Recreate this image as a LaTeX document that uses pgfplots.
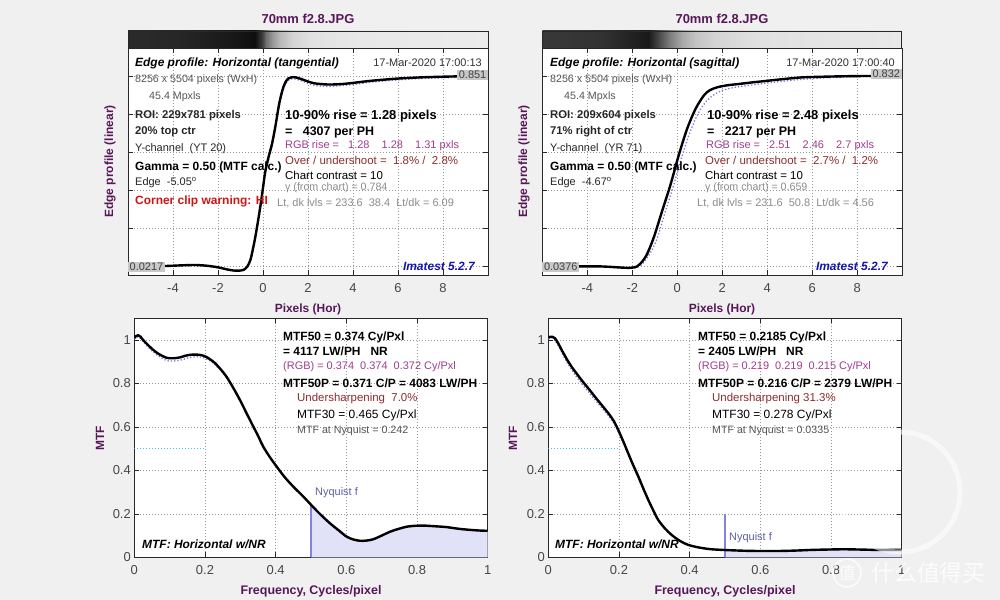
\documentclass[border=0pt]{standalone}
\usepackage{fontspec}
\setmainfont{Liberation Sans}
\newfontfamily\cjk{Noto Sans CJK SC}
\usepackage{pgfplots}
\pgfplotsset{compat=1.18}
\usepackage{pgfplotstable}

\definecolor{figbg}{RGB}{240,240,240}
\definecolor{labc}{RGB}{88,22,88}
\definecolor{tickc}{RGB}{70,70,70}
\definecolor{axc}{RGB}{40,40,40}
\definecolor{gridc}{RGB}{150,150,150}
\definecolor{infoc}{RGB}{85,85,85}
\definecolor{lgrey}{RGB}{140,140,140}
\definecolor{purp}{RGB}{160,60,145}
\definecolor{brn}{RGB}{140,45,45}
\definecolor{warnred}{RGB}{205,20,20}
\definecolor{imablue}{RGB}{20,20,170}
\definecolor{rgbdot}{RGB}{120,120,220}
\definecolor{nyq}{RGB}{130,130,225}
\definecolor{nyqfill}{RGB}{225,225,248}
\definecolor{nyqtxt}{RGB}{95,95,165}
\definecolor{cyanline}{RGB}{60,200,230}
\definecolor{boxg}{RGB}{200,200,200}

\newcommand{\fs}[1]{\fontsize{#1}{#1}\selectfont}

% grey strips above the edge plots
\pgfdeclarehorizontalshading{stripA}{100bp}{rgb(0bp)=(.17,.17,.17); rgb(25bp)=(.17,.17,.17);
 rgb(32.2bp)=(.15,.15,.15); rgb(39.15bp)=(.098,.098,.098); rgb(42.65bp)=(.059,.059,.059);
 rgb(43.6bp)=(.235,.235,.235); rgb(44.15bp)=(.431,.431,.431); rgb(45bp)=(.588,.588,.588);
 rgb(46.1bp)=(.725,.725,.725); rgb(47.8bp)=(.824,.824,.824); rgb(50.3bp)=(.882,.882,.882);
 rgb(57.2bp)=(.91,.91,.91); rgb(75bp)=(.925,.925,.925); rgb(100bp)=(.925,.925,.925)}
\pgfdeclarehorizontalshading{stripB}{100bp}{rgb(0bp)=(.22,.22,.22); rgb(25bp)=(.22,.22,.22);
 rgb(33.05bp)=(.2,.2,.2); rgb(37.25bp)=(.137,.137,.137); rgb(39.75bp)=(.098,.098,.098);
 rgb(40.85bp)=(.235,.235,.235); rgb(41.95bp)=(.392,.392,.392); rgb(43.1bp)=(.529,.529,.529);
 rgb(44.5bp)=(.667,.667,.667); rgb(46.3bp)=(.765,.765,.765); rgb(49.05bp)=(.831,.831,.831);
 rgb(55.3bp)=(.882,.882,.882); rgb(75bp)=(.914,.914,.914); rgb(100bp)=(.914,.914,.914)}

% edge profile, tangential
\pgfplotstableread{
x y
-6.0 0.020
-5.5 0.021
-5.0 0.022
-4.5 0.024
-4.0 0.026
-3.5 0.028
-3.0 0.029
-2.5 0.026
-2.0 0.019
-1.6 0.010
-1.3 0.005
-1.0 0.005
-0.86 0.008
-0.7 0.022
-0.56 0.051
-0.45 0.098
-0.34 0.152
-0.23 0.215
-0.12 0.283
0.0 0.365
0.10 0.435
0.25 0.500
0.40 0.556
0.55 0.632
0.69 0.715
0.80 0.766
0.91 0.804
1.02 0.828
1.14 0.841
1.30 0.846
1.45 0.845
1.70 0.838
2.00 0.827
2.30 0.819
2.70 0.815
3.00 0.814
3.50 0.816
4.00 0.821
4.50 0.827
5.00 0.832
6.00 0.840
7.00 0.845
8.00 0.848
9.00 0.850
10.0 0.851
}\edgeA
\pgfplotstableread{
x y
-6.0 0.019
-4.0 0.025
-3.0 0.027
-2.0 0.017
-1.3 0.004
-1.0 0.004
-0.7 0.018
-0.45 0.090
-0.12 0.272
0.10 0.425
0.40 0.545
0.69 0.705
0.91 0.795
1.14 0.833
1.40 0.838
1.70 0.830
2.30 0.810
3.00 0.806
4.00 0.814
5.00 0.826
7.00 0.840
10.0 0.848
}\edgeAdot
% edge profile, sagittal
\pgfplotstableread{
x y
-6.0 0.037
-5.0 0.038
-4.0 0.039
-3.5 0.039
-3.0 0.037
-2.5 0.034
-2.1 0.033
-1.8 0.038
-1.55 0.060
-1.33 0.093
-1.04 0.161
-0.67 0.271
-0.30 0.380
0.07 0.504
0.44 0.613
0.81 0.695
1.18 0.751
1.45 0.773
1.78 0.785
2.2 0.793
2.67 0.798
3.3 0.805
4.0 0.812
4.7 0.819
5.5 0.826
6.5 0.829
7.5 0.831
8.5 0.832
10.0 0.832
}\edgeB
\pgfplotstableread{
x y
-6.0 0.036
-4.0 0.038
-3.0 0.036
-2.0 0.031
-1.6 0.045
-1.2 0.095
-0.9 0.155
-0.55 0.262
-0.18 0.372
0.2 0.495
0.57 0.600
0.95 0.680
1.3 0.728
1.6 0.752
1.9 0.768
2.3 0.780
2.8 0.788
3.5 0.797
4.5 0.808
5.5 0.818
7.0 0.826
8.5 0.830
10.0 0.831
}\edgeBdot
% MTF, tangential
\pgfplotstableread{
x y
0.000 1.010
0.005 1.018
0.011 1.022
0.018 1.015
0.025 1.000
0.040 0.975
0.054 0.954
0.070 0.935
0.092 0.918
0.110 0.916
0.129 0.920
0.145 0.928
0.158 0.932
0.175 0.933
0.191 0.930
0.205 0.921
0.224 0.900
0.242 0.870
0.261 0.831
0.280 0.780
0.299 0.724
0.318 0.662
0.337 0.601
0.350 0.560
0.365 0.509
0.384 0.460
0.403 0.417
0.425 0.370
0.450 0.325
0.475 0.285
0.500 0.242
0.525 0.200
0.554 0.156
0.580 0.122
0.601 0.095
0.620 0.082
0.639 0.076
0.657 0.077
0.676 0.083
0.700 0.100
0.724 0.118
0.748 0.131
0.771 0.141
0.795 0.145
0.818 0.146
0.850 0.143
0.884 0.139
0.910 0.133
0.931 0.129
0.960 0.125
0.980 0.123
1.000 0.122
}\mtfA
\pgfplotstableread{
x y
0.000 1.005
0.011 1.015
0.025 0.992
0.054 0.944
0.092 0.905
0.129 0.907
0.158 0.920
0.191 0.921
0.224 0.893
0.261 0.826
0.299 0.720
0.337 0.598
0.365 0.507
0.403 0.415
0.450 0.323
0.500 0.241
0.554 0.154
0.601 0.093
0.639 0.074
0.676 0.081
0.724 0.116
0.771 0.139
0.818 0.144
0.884 0.137
0.931 0.127
1.000 0.120
}\mtfAdot
% MTF, sagittal
\pgfplotstableread{
x y
0.000 1.010
0.005 1.015
0.012 1.015
0.019 1.008
0.028 0.985
0.038 0.954
0.052 0.913
0.066 0.877
0.080 0.846
0.094 0.816
0.113 0.778
0.132 0.739
0.151 0.701
0.170 0.663
0.185 0.628
0.198 0.586
0.212 0.534
0.226 0.479
0.240 0.425
0.255 0.371
0.269 0.316
0.283 0.264
0.297 0.216
0.311 0.172
0.330 0.133
0.349 0.103
0.372 0.076
0.396 0.057
0.430 0.044
0.462 0.037
0.500 0.0335
0.557 0.030
0.600 0.029
0.651 0.029
0.700 0.031
0.745 0.034
0.800 0.036
0.840 0.037
0.900 0.035
0.934 0.034
1.000 0.034
}\mtfB
\pgfplotstableread{
x y
0.000 1.005
0.012 1.010
0.028 0.975
0.052 0.900
0.080 0.830
0.113 0.762
0.151 0.688
0.185 0.618
0.212 0.528
0.240 0.420
0.269 0.312
0.297 0.213
0.330 0.131
0.372 0.075
0.430 0.043
0.500 0.033
0.600 0.028
0.700 0.030
0.800 0.035
0.900 0.034
1.000 0.033
}\mtfBdot

\pgfplotsset{
  imbase/.style={scale only axis, anchor=south west,
    axis background/.style={fill=white},
    axis line style={draw=axc, line width=0.7bp},
    every tick/.style={draw=axc, line width=0.6bp},
    major tick length=5bp,
    grid=major,
    major grid style={draw=gridc, line width=0.6bp, dash pattern=on 0.6bp off 2.4bp},
    tick label style={font=\fs{13}, text=tickc},
    /pgf/number format/assume math mode=true,
    xticklabel shift=5bp},
  edge/.style={imbase, width=360bp, height=227bp, xmin=-6, xmax=10,
    xtick={-4,-2,0,2,4,6,8}, yticklabels={}},
  mtf/.style={imbase, width=353.4bp, height=239bp, xmin=0, xmax=1, ymin=0, ymax=1.1,
    xtick={0,0.2,0.4,0.6,0.8,1}, ytick={0,0.2,0.4,0.6,0.8,1}},
}

\begin{document}
\begin{tikzpicture}
\path[use as bounding box] (0,0) rectangle (1000bp,600bp);
\fill[figbg] (0,0) rectangle (1000bp,600bp);

\begin{axis}[edge, at={(128bp,325bp)}, ymin=-0.0144, ymax=0.9728,
  ytick={0.0217,0.1876,0.3534,0.5193,0.6851,0.851}]
\addplot[rgbdot, dotted, line width=1.3bp, smooth] table {\edgeAdot};
\addplot[black, line width=2.4bp, smooth] table {\edgeA};
\end{axis}

\begin{axis}[edge, at={(542.3bp,325bp)}, ymin=0.0030, ymax=0.9486,
  ytick={0.0376,0.1965,0.3554,0.5142,0.6731,0.832}]
\addplot[rgbdot, dotted, line width=1.3bp, smooth] table {\edgeBdot};
\addplot[black, line width=2.4bp, smooth] table {\edgeB};
\end{axis}

\begin{axis}[mtf, at={(134.3bp,42.7bp)}]
\addplot[fill=nyqfill, draw=none, restrict x to domain=0.5:1] table {\mtfA} \closedcycle;
\addplot[cyanline, dotted, line width=1bp] coordinates {(0,0.5) (0.2,0.5)};
\addplot[nyq, line width=2.2bp] coordinates {(0.5,0) (0.5,0.242)};
\addplot[rgbdot, dotted, line width=1.3bp, smooth] table {\mtfAdot};
\addplot[black, line width=2.4bp, smooth] table {\mtfA};
\end{axis}

\begin{axis}[mtf, at={(548.3bp,42.7bp)}]
\addplot[fill=nyqfill, draw=none, restrict x to domain=0.5:1] table {\mtfB} \closedcycle;
\addplot[cyanline, dotted, line width=1bp] coordinates {(0,0.5) (0.2,0.5)};
\addplot[nyq, line width=2.2bp] coordinates {(0.5,0) (0.5,0.2)};
\addplot[rgbdot, dotted, line width=1.3bp, smooth] table {\mtfBdot};
\addplot[black, line width=2.4bp, smooth] table {\mtfB};
\end{axis}

\begin{scope}[x=1bp, y=-1bp, yshift=600bp, every node/.style={inner sep=0pt, anchor=west}]
% strips
\shade[shading=stripA] (128,31) rectangle (488,48);
\draw[axc, line width=0.7bp] (128,48) -- (128,31) -- (488,31) -- (488,48);
\shade[shading=stripB] (542.3,31) rectangle (901.7,48);
\draw[axc, line width=0.7bp] (542.3,48) -- (542.3,31) -- (901.7,31) -- (901.7,48);

% titles and axis labels
\node[anchor=center, font=\fs{13}\bfseries, text=labc] at (308,19) {70mm f2.8.JPG};
\node[anchor=center, font=\fs{13}\bfseries, text=labc] at (722,19) {70mm f2.8.JPG};
\node[anchor=center, font=\fs{12}\bfseries, text=labc] at (308,309) {Pixels (Hor)};
\node[anchor=center, font=\fs{12}\bfseries, text=labc] at (722,309) {Pixels (Hor)};
\node[anchor=center, font=\fs{12.5}\bfseries, text=labc] at (311,591) {Frequency, Cycles/pixel};
\node[anchor=center, font=\fs{12.5}\bfseries, text=labc] at (725,591) {Frequency, Cycles/pixel};
\node[anchor=center, rotate=90, font=\fs{12}\bfseries, text=labc] at (110,161.5) {Edge profile (linear)};
\node[anchor=center, rotate=90, font=\fs{12}\bfseries, text=labc] at (524,161.5) {Edge profile (linear)};
\node[anchor=center, rotate=90, font=\fs{12}\bfseries, text=labc] at (100,438) {MTF};
\node[anchor=center, rotate=90, font=\fs{12}\bfseries, text=labc] at (513,438) {MTF};

% level boxes
\node[fill=boxg, inner sep=1.5bp, font=\fs{11}, text=black!75] at (128,267) {0.0217};
\node[fill=boxg, inner sep=1.5bp, font=\fs{11}, text=black!75, anchor=east] at (488,75) {0.851};
\node[fill=boxg, inner sep=1.5bp, font=\fs{11}, text=black!75] at (542.3,267) {0.0376};
\node[fill=boxg, inner sep=1.5bp, font=\fs{11}, text=black!75, anchor=east] at (901.7,74) {0.832};

% edge profile, tangential
\node[font=\fs{12}\bfseries\itshape] at (135,63) {Edge profile: Horizontal (tangential)};
\node[anchor=east, font=\fs{11}, text=black!80] at (482,63) {17-Mar-2020 17:00:13};
\node[font=\fs{10.7}, text=infoc] at (135,80) {8256 x 5504 pixels (WxH)};
\node[font=\fs{10.7}, text=infoc] at (149,97) {45.4 Mpxls};
\node[font=\fs{11.3}\bfseries, text=black!85] at (135,116) {ROI:\ 229x781 pixels};
\node[font=\fs{11.3}\bfseries, text=black!85] at (135,132) {20\% top ctr};
\node[font=\fs{11}, text=black!85] at (135,149) {Y-channel\ \ (YT 20)};
\node[font=\fs{12}\bfseries] at (135,167) {Gamma = 0.50 (MTF calc.)};
\node[font=\fs{11}, text=black!85] at (135,183) {Edge\ \ -5.05\textsuperscript{o}};
\node[font=\fs{12}\bfseries, text=warnred] at (135,201) {Corner clip warning: HI};
\node[font=\fs{13}\bfseries] at (285,116) {10-90\% rise = 1.28 pixels};
\node[font=\fs{12.5}\bfseries] at (285,132) {=\ \ \ 4307 per PH};
\node[font=\fs{11}, text=purp] at (285,146) {RGB rise =\ \ \ 1.28\ \ \ \ 1.28\ \ \ \ 1.31 pxls};
\node[font=\fs{11.5}, text=brn] at (285,160) {Over / undershoot =\ \ 1.8\% /\ \ 2.8\%};
\node[font=\fs{11.5}] at (285,175) {Chart contrast = 10};
\node[font=\fs{10.7}, text=lgrey] at (285,188) {γ (from chart) = 0.784};
\node[font=\fs{11}, text=lgrey] at (277,203) {Lt, dk lvls = 233.6\ \ 38.4\ \ Lt/dk = 6.09};
\node[anchor=east, font=\fs{12}\bfseries\itshape, text=imablue] at (475,266) {Imatest 5.2.7};

% edge profile, sagittal
\node[font=\fs{12}\bfseries\itshape] at (550,63) {Edge profile: Horizontal (sagittal)};
\node[anchor=east, font=\fs{11}, text=black!80] at (895,63) {17-Mar-2020 17:00:40};
\node[font=\fs{10.7}, text=infoc] at (550,80) {8256 x 5504 pixels (WxH)};
\node[font=\fs{10.7}, text=infoc] at (564,97) {45.4 Mpxls};
\node[font=\fs{11.3}\bfseries, text=black!85] at (550,116) {ROI:\ 209x604 pixels};
\node[font=\fs{11.3}\bfseries, text=black!85] at (550,132) {71\% right of ctr};
\node[font=\fs{11}, text=black!85] at (550,149) {Y-channel\ \ (YR 71)};
\node[font=\fs{12}\bfseries] at (550,167) {Gamma = 0.50 (MTF calc.)};
\node[font=\fs{11}, text=black!85] at (550,183) {Edge\ \ -4.67\textsuperscript{o}};
\node[font=\fs{13}\bfseries] at (707,116) {10-90\% rise = 2.48 pixels};
\node[font=\fs{12.5}\bfseries] at (707,132) {=\ \ \ 2217 per PH};
\node[font=\fs{11}, text=purp] at (706,146) {RGB rise =\ \ \ 2.51\ \ \ \ 2.46\ \ \ \ 2.7 pxls};
\node[font=\fs{11.5}, text=brn] at (705,160) {Over / undershoot =\ \ 2.7\% /\ \ 1.2\%};
\node[font=\fs{11.5}] at (705,175) {Chart contrast = 10};
\node[font=\fs{10.7}, text=lgrey] at (705,188) {γ (from chart) = 0.659};
\node[font=\fs{11}, text=lgrey] at (697,203) {Lt, dk lvls = 231.6\ \ 50.8\ \ Lt/dk = 4.56};
\node[anchor=east, font=\fs{12}\bfseries\itshape, text=imablue] at (888,266) {Imatest 5.2.7};

% MTF, tangential
\node[font=\fs{12}\bfseries] at (283,337) {MTF50 = 0.374 Cy/Pxl};
\node[font=\fs{12}\bfseries] at (283,351) {= 4117 LW/PH\ \ \ NR};
\node[font=\fs{11}, text=purp] at (283,367) {(RGB) = 0.374\ \ 0.374\ \ 0.372 Cy/Pxl};
\node[font=\fs{12}\bfseries] at (283,383) {MTF50P = 0.371 C/P = 4083 LW/PH};
\node[font=\fs{11.5}, text=brn] at (297,399) {Undersharpening\ \ 7.0\%};
\node[font=\fs{12}] at (297,415) {MTF30 = 0.465 Cy/Pxl};
\node[font=\fs{10.7}, text=infoc] at (297,431) {MTF at Nyquist = 0.242};
\node[font=\fs{11}, text=nyqtxt] at (315,493) {Nyquist f};
\node[font=\fs{12}\bfseries\itshape] at (142,544) {MTF: Horizontal w/NR};

% MTF, sagittal
\node[font=\fs{12}\bfseries] at (698,337) {MTF50 = 0.2185 Cy/Pxl};
\node[font=\fs{12}\bfseries] at (698,351) {= 2405 LW/PH\ \ \ NR};
\node[font=\fs{11}, text=purp] at (698,367) {(RGB) = 0.219\ \ 0.219\ \ 0.215 Cy/Pxl};
\node[font=\fs{12}\bfseries] at (698,383) {MTF50P = 0.216 C/P = 2379 LW/PH};
\node[font=\fs{11.5}, text=brn] at (712,399) {Undersharpening 31.3\%};
\node[font=\fs{12}] at (712,415) {MTF30 = 0.278 Cy/Pxl};
\node[font=\fs{10.7}, text=infoc] at (712,431) {MTF at Nyquist = 0.0335};
\node[font=\fs{11}, text=nyqtxt] at (729,538) {Nyquist f};
\node[font=\fs{12}\bfseries\itshape] at (555,544) {MTF: Horizontal w/NR};

% watermark
\draw[white, opacity=0.55, line width=5bp] (900,492) circle[radius=60bp];
\draw[white, opacity=0.85, line width=1.5bp] (847,573) circle[radius=14bp];
\node[anchor=center, font=\cjk\fs{17}, text=white, opacity=0.85] at (847,573) {值};
\node[font=\cjk\fs{23}, text=white, opacity=0.85] at (871,573) {什么值得买};
\end{scope}
\end{tikzpicture}
\end{document}
